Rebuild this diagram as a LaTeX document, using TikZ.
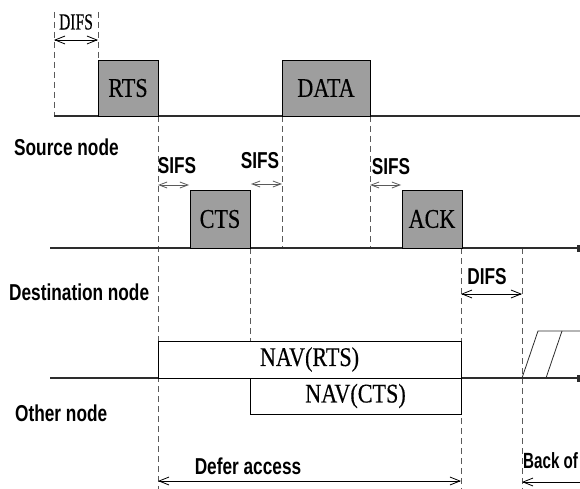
\documentclass[tikz,border=0pt]{standalone}
\usepackage{fontspec}
\usetikzlibrary{arrows.meta}
\newfontfamily\lblfont[FakeStretch=0.75]{Liberation Sans Bold}
\newfontfamily\edgefont[FakeStretch=0.69]{Liberation Sans Bold}
\newfontfamily\pktfont[FakeStretch=0.82,FakeBold=0.3]{Liberation Serif}
\newfontfamily\difsfont[FakeStretch=0.68,FakeBold=0.3]{Liberation Serif}
\definecolor{pktgray}{RGB}{158,158,158}
\definecolor{dashgray}{RGB}{90,90,90}
\definecolor{linegray}{RGB}{45,45,45}
\tikzset{
  pkt/.style={draw=black, line width=0.8pt, fill=pktgray, inner sep=0pt, outer sep=0pt,
    anchor=north west, font=\pktfont\fontsize{27}{27}\selectfont},
  navbox/.style={draw=black, line width=0.8pt, fill=white, inner sep=0pt, outer sep=0pt,
    anchor=north west, font=\pktfont\fontsize{27}{27}\selectfont},
  lbl/.style={font=\lblfont\fontsize{23}{23}\selectfont, inner sep=0pt},
  timeline/.style={draw=linegray, line width=1.4pt},
  guide/.style={draw=dashgray, line width=0.8pt, dash pattern=on 6pt off 4pt},
  span/.style={draw=black, line width=0.8pt, {Straight Barb[length=10pt,width=8pt]}-{Straight Barb[length=10pt,width=8pt]}},
  gap/.style={draw=dashgray, line width=0.8pt, {Straight Barb[length=8pt,width=6pt]}-{Straight Barb[length=8pt,width=6pt]}},
  endmark/.style={-{Rectangle[length=3pt,width=7pt]}},
  slope/.style={draw=linegray, line width=0.8pt}
}
\begin{document}
\begin{tikzpicture}[x=1pt,y=-1pt]
\useasboundingbox (0,0) rectangle (580,489);

% ---- time axes ----
\coordinate (srcL) at (54,116);  \coordinate (srcR) at (580,116);
\coordinate (dstL) at (50,248);  \coordinate (dstR) at (580,248);
\coordinate (othL) at (50,378);  \coordinate (othR) at (580,378);

% ---- vertical guides (drawn first, behind the frames) ----
\coordinate (g1t) at (54,12);   \coordinate (g1b) at (54,116);
\coordinate (g2t) at (98,12);   \coordinate (g2b) at (98,60);
\coordinate (g3t) at (158,116); \coordinate (g3b) at (158,489);
\coordinate (g4t) at (282,116); \coordinate (g4b) at (282,248);
\coordinate (g5t) at (370,116); \coordinate (g5b) at (370,248);
\coordinate (g6t) at (250,248); \coordinate (g6b) at (250,378);
\coordinate (g7t) at (461,248); \coordinate (g7b) at (461,489);
\coordinate (g8t) at (522,248); \coordinate (g8b) at (522,489);
\foreach \a/\b in {g1t/g1b,g2t/g2b,g3t/g3b,g4t/g4b,g5t/g5b,g6t/g6b,g7t/g7b,g8t/g8b}
  \draw[guide] (\a) -- (\b);

\draw[timeline] (srcL) -- (srcR);
\draw[timeline, endmark] (dstL) -- (dstR);
\draw[timeline, endmark] (othL) -- (othR);

% ---- frames ----
\node[pkt, minimum width=60pt, minimum height=56pt] (rts) at (98,60) {RTS};
\node[pkt, minimum width=88pt, minimum height=56pt] (data) at (282,60) {DATA};
\node[pkt, minimum width=60pt, minimum height=58pt] (cts) at (190,190) {CTS};
\node[pkt, minimum width=60pt, minimum height=58pt] (ack) at (402,190) {ACK};

% ---- NAV frames ----
\node[navbox, minimum width=303pt, minimum height=37pt] (navrts) at (158,341) {NAV(RTS)};
\node[navbox, minimum width=211pt, minimum height=36pt] (navcts) at (250,378) {NAV(CTS)};

% ---- backoff slots ----
\coordinate (b1) at (522,378); \coordinate (b2) at (538,331); \coordinate (b3) at (580,331);
\coordinate (b4) at (546,378); \coordinate (b5) at (562,331);
\draw[slope] (b1) -- (b2) -- (b3);
\draw[slope] (b4) -- (b5);

% ---- node labels ----
\node[lbl, anchor=west] (srcname) at (14,147) {Source node};
\node[lbl, anchor=west] (dstname) at (9,292) {Destination node};
\node[lbl, anchor=west] (othname) at (15,413) {Other node};

% ---- interframe spaces ----
\node[font=\difsfont\fontsize{23}{23}\selectfont, inner sep=0pt] (difs1) at (76,22) {DIFS};
\coordinate (d1a) at (54,40); \coordinate (d1b) at (98,40);
\draw[span] (d1a) -- (d1b);

\node[lbl] (sifs1) at (177,166) {SIFS};
\coordinate (s1a) at (158,185); \coordinate (s1b) at (189,185);
\draw[gap] (s1a) -- (s1b);

\node[lbl] (sifs2) at (260,161) {SIFS};
\coordinate (s2a) at (251,184); \coordinate (s2b) at (282,184);
\draw[gap] (s2a) -- (s2b);

\node[lbl] (sifs3) at (391,167) {SIFS};
\coordinate (s3a) at (370,185); \coordinate (s3b) at (401,185);
\draw[gap] (s3a) -- (s3b);

\node[lbl] (difs2) at (487,277) {DIFS};
\coordinate (d2a) at (461,294); \coordinate (d2b) at (522,294);
\draw[span] (d2a) -- (d2b);

% ---- defer / backoff ----
\node[lbl] (defer) at (248,466) {Defer access};
\coordinate (da) at (158,481); \coordinate (db) at (461,481);
\draw[span] (da) -- (db);

\node[font=\edgefont\fontsize{22}{22}\selectfont, inner sep=0pt, anchor=west] (backoff) at (523,461) {Back of};
\coordinate (ba) at (580,482); \coordinate (bb) at (522,482);
\draw[draw=black, line width=0.8pt, -{Straight Barb[length=10pt,width=8pt]}] (ba) -- (bb);
\end{tikzpicture}
\end{document}
